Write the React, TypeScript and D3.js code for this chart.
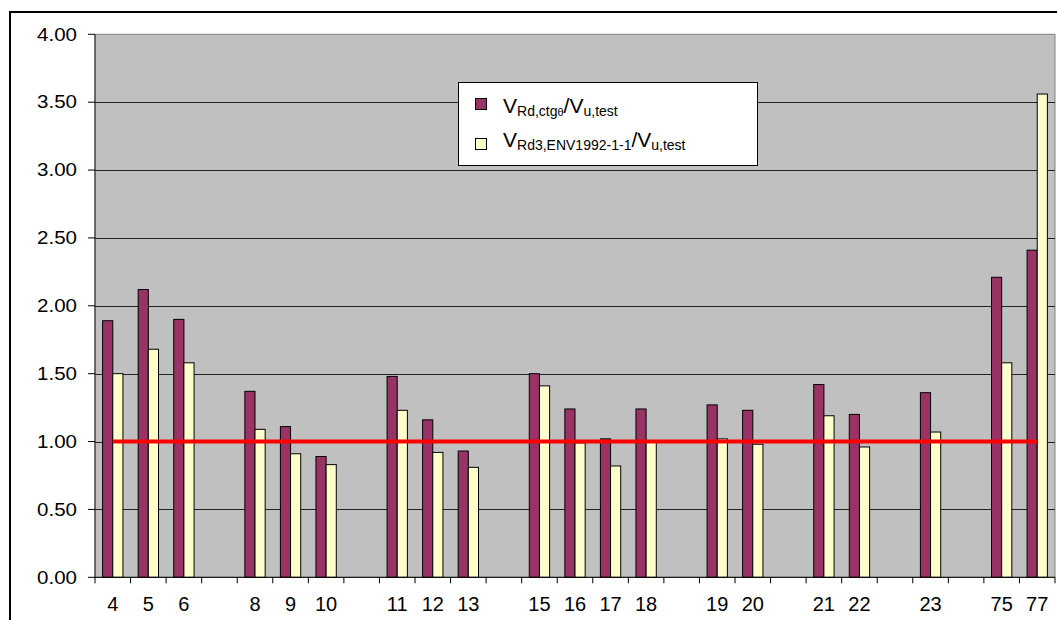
import React from "react";
import * as d3 from "d3";

// Specimen numbers along the category axis (blank entries separate test groups)
const categories: string[] = [
  "4", "5", "6", "", "8", "9", "10", "", "11", "12", "13", "",
  "15", "16", "17", "18", "", "19", "20", "", "21", "22", "", "23", "", "75", "77",
];

// V_Rd,ctgθ / V_u,test
const ratioCtg: (number | null)[] = [
  1.89, 2.12, 1.90, null, 1.37, 1.11, 0.89, null, 1.48, 1.16, 0.93, null,
  1.50, 1.24, 1.02, 1.24, null, 1.27, 1.23, null, 1.42, 1.20, null, 1.36, null, 2.21, 2.41,
];

// V_Rd3,ENV1992-1-1 / V_u,test
const ratioEnv: (number | null)[] = [
  1.50, 1.68, 1.58, null, 1.09, 0.91, 0.83, null, 1.23, 0.92, 0.81, null,
  1.41, 0.99, 0.82, 1.00, null, 1.02, 0.98, null, 1.19, 0.96, null, 1.07, null, 1.58, 3.56,
];

// Reference ratio drawn as a line across all specimens
const referenceRatio: number[] = categories.map(() => 1.0);

const yTicks: number[] = [0, 0.5, 1, 1.5, 2, 2.5, 3, 3.5, 4];

const W = 1057;
const H = 620;
const plot = { left: 95, right: 1055, top: 34.3, bottom: 577.3 };
const FONT = "'Liberation Sans', Arial, sans-serif";
const PURPLE = "#993366";
const CREAM = "#FFFFCC";

export default function App() {
  const x = d3
    .scaleBand<number>()
    .domain(categories.map((_, i) => i))
    .range([plot.left, plot.right])
    .padding(0);
  const y = d3.scaleLinear().domain([0, 4]).range([plot.bottom, plot.top]);

  const bw = x.bandwidth();
  const barW = bw / 3.5; // gap width 150%
  const offset = barW * 0.75;

  const line = d3
    .line<number>()
    .x((_, i) => (x(i) as number) + bw / 2)
    .y((d) => y(d));

  const series = [
    { values: ratioCtg, color: PURPLE, shift: 0 },
    { values: ratioEnv, color: CREAM, shift: 1 },
  ];

  return (
    <svg
      width={W}
      height={H}
      style={{ position: "absolute", left: 0, top: 0, background: "#fff" }}
      fontFamily={FONT}
    >
      {/* chart frame */}
      <rect x={10} y={12} width={1060} height={640} fill="#fff" stroke="#000" strokeWidth={2} />

      {/* plot area */}
      <rect
        x={plot.left}
        y={plot.top}
        width={plot.right - plot.left}
        height={plot.bottom - plot.top}
        fill="#C0C0C0"
        stroke="#808080"
        strokeWidth={1}
      />

      {/* horizontal gridlines */}
      {yTicks
        .filter((t) => t > 0 && t < 4)
        .map((t) => (
          <line
            key={"g" + t}
            x1={plot.left}
            x2={plot.right}
            y1={Math.round(y(t)) + 0.5}
            y2={Math.round(y(t)) + 0.5}
            stroke="#222"
            strokeWidth={1}
          />
        ))}

      {/* bars */}
      {series.map((s, si) =>
        s.values.map((v, i) =>
          v == null ? null : (
            <rect
              key={`b${si}-${i}`}
              x={(x(i) as number) + offset + s.shift * barW}
              y={y(v)}
              width={barW}
              height={y(0) - y(v)}
              fill={s.color}
              stroke="#000"
              strokeWidth={1}
            />
          )
        )
      )}

      {/* reference line */}
      <path d={line(referenceRatio) as string} fill="none" stroke="#FF0000" strokeWidth={4} />

      {/* axes */}
      <line x1={plot.left} x2={plot.left} y1={plot.top} y2={plot.bottom} stroke="#222" />
      <line x1={plot.left} x2={plot.right} y1={plot.bottom} y2={plot.bottom} stroke="#000" />

      {/* y ticks and labels */}
      {yTicks.map((t) => (
        <g key={"yt" + t}>
          <line x1={88} x2={plot.left} y1={y(t)} y2={y(t)} stroke="#000" />
          <text
            transform={`translate(77,${y(t) + 6.3}) scale(1.14,1)`}
            textAnchor="end"
            fontSize={18}
            fill="#000"
          >
            {t.toFixed(2)}
          </text>
        </g>
      ))}

      {/* x ticks at category boundaries */}
      {categories.map((_, i) => (
        <line
          key={"xt" + i}
          x1={x(i) as number}
          x2={x(i) as number}
          y1={plot.bottom}
          y2={plot.bottom + 6}
          stroke="#000"
        />
      ))}
      <line x1={plot.right} x2={plot.right} y1={plot.bottom} y2={plot.bottom + 6} stroke="#000" />

      {/* category labels */}
      {categories.map((c, i) =>
        c ? (
          <text
            key={"xl" + i}
            x={(x(i) as number) + bw / 2}
            y={611}
            textAnchor="middle"
            fontSize={20}
            fill="#000"
          >
            {c}
          </text>
        ) : null
      )}

      {/* legend */}
      <rect x={458.5} y={82.5} width={299} height={83} fill="#fff" stroke="#000" strokeWidth={1} />
      <rect x={475.5} y={98.5} width={11} height={11} fill={PURPLE} stroke="#000" />
      <rect x={475.5} y={138.5} width={11} height={11} fill={CREAM} stroke="#000" />
      <text x={503} y={113.3} fill="#000">
        <tspan fontSize={21}>V</tspan>
        <tspan fontSize={14} dy={3}>Rd,ctg</tspan>
        <tspan fontSize={11}>θ</tspan>
        <tspan fontSize={21} dy={-3}>/V</tspan>
        <tspan fontSize={14} dy={3}>u,test</tspan>
      </text>
      <text x={503} y={146.7} fill="#000">
        <tspan fontSize={21}>V</tspan>
        <tspan fontSize={14} dy={3}>Rd3,ENV1992-1-1</tspan>
        <tspan fontSize={21} dy={-3}>/V</tspan>
        <tspan fontSize={14} dy={3}>u,test</tspan>
      </text>
    </svg>
  );
}
